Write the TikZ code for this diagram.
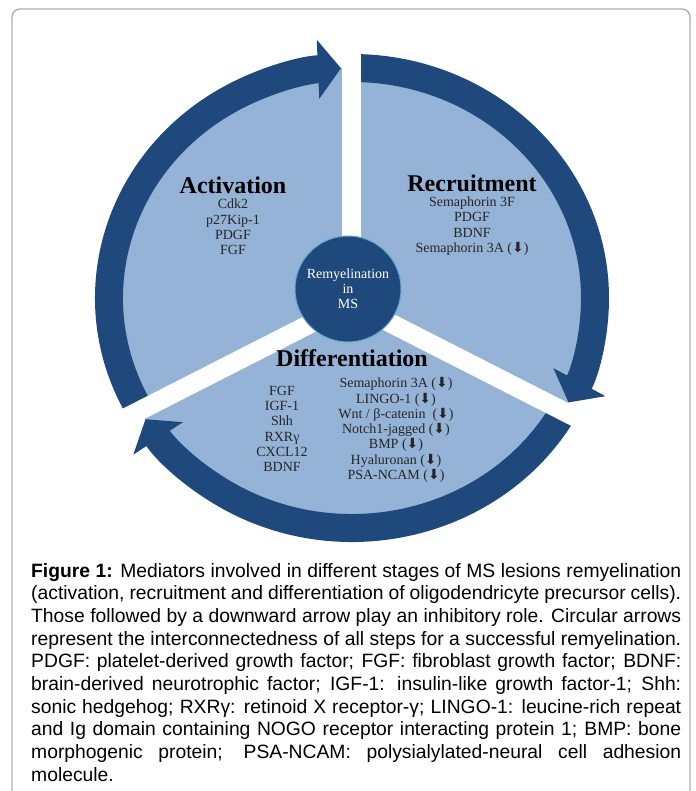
\documentclass[tikz,border=0pt]{standalone}
\usepackage{fontspec}
\setmainfont{Liberation Serif}
\newfontfamily\capfont{Liberation Sans}
\newfontfamily\arrowfont{DejaVu Sans}
\usetikzlibrary{arrows.meta,calc}

\definecolor{ringblue}{RGB}{31,73,125}
\definecolor{discblue}{RGB}{149,179,215}
\definecolor{rimcyan}{RGB}{96,168,200}
\definecolor{framegray}{RGB}{175,175,175}
\definecolor{itemgray}{RGB}{38,38,38}

% inhibitory mark
\newcommand{\inh}{({\arrowfont ⬇})}

\begin{document}
\begin{tikzpicture}[x=1pt,y=1pt,
  band/.style={draw=ringblue, line width=28pt, -{Triangle[length=23pt,width=58pt]}},
  gapline/.style={draw=white, line width=19pt},
  stage/.style={font=\fontsize{24}{26}\selectfont\bfseries, text=black, inner sep=0pt},
  items/.style={font=\fontsize{14}{15.3}\selectfont, text=itemgray, align=center, inner sep=0pt}]
  \useasboundingbox (0,0) rectangle (695,-791);
  \clip (0,0) rectangle (695,-791);
  \coordinate (C) at (352,-298);
  \coordinate (G) at (351,-303);

  \draw[framegray, line width=1.4pt, rounded corners=8pt] (12,-9) rectangle (690,-830);

  \fill[discblue] (C) ellipse [x radius=243, y radius=230];

  % three clockwise arrows, radii 243 and 230
  \draw[band] ($(C)+(209.4:243 and 230)$) arc[start angle=209.4, end angle=92.6, x radius=243, y radius=230];
  \draw[band] ($(C)+(90:243 and 230)$) arc[start angle=90, end angle=-27, x radius=243, y radius=230];
  \draw[band] ($(C)+(-29.4:243 and 230)$) arc[start angle=-29.4, end angle=-148.2, x radius=243, y radius=230];

  % white cuts between the stages
  \draw[gapline] (G) -- ++(90:280);
  \draw[gapline] (G) -- ++(-27:300);
  \draw[gapline] (G) -- ++(207:300);

  \node[circle, fill=ringblue, draw=rimcyan, line width=1pt, minimum size=106pt, inner sep=0pt,
        text=white, align=center, font=\fontsize{14}{15}\selectfont] (core) at (348,-289)
        {Remyelination\\in\\MS};

  \node[stage] (act) at (233,-185) {Activation};
  \node[items] (actlist) at (233,-227) {Cdk2\\p27Kip-1\\PDGF\\FGF};

  \node[stage] (rec) at (472,-183) {Recruitment};
  \node[items] (reclist) at (472,-226) {Semaphorin 3F\\PDGF\\BDNF\\Semaphorin 3A \inh};

  \node[stage] (diff) at (352,-358) {Differentiation};
  \node[items] (difflist) at (282,-429) {FGF\\IGF-1\\Shh\\RXRγ\\CXCL12\\BDNF};
  \node[items] (diffinh) at (396,-430) {Semaphorin 3A \inh\\LINGO-1 \inh\\Wnt / β-catenin~ \inh\\
    Notch1-jagged \inh\\BMP \inh\\Hyaluronan \inh\\PSA-NCAM \inh};

  \node[anchor=north west, inner sep=0pt, text width=650pt, align=justify,
        font=\capfont\fontsize{19.3}{22.65}\selectfont] (caption) at (31,-563)
    {\tolerance=10000 \hyphenpenalty=10000 \exhyphenpenalty=10000
     \textbf{Figure 1:} Mediators involved in different stages of MS lesions remyelination\linebreak
     (activation, recruitment and differentiation of oligodendricyte precursor cells).\linebreak
     Those followed by a downward arrow play an inhibitory role. Circular arrows\linebreak
     represent the interconnectedness of all steps for a successful remyelination.\linebreak
     PDGF: platelet-derived growth factor; FGF: fibroblast growth factor; BDNF:\linebreak
     brain-derived neurotrophic factor; IGF-1: insulin-like growth factor-1; Shh:\linebreak
     sonic hedgehog; RXRγ: retinoid X receptor-γ; LINGO-1: leucine-rich repeat\linebreak
     and Ig domain containing NOGO receptor interacting protein 1; BMP: bone\linebreak
     morphogenic protein; PSA-NCAM: polysialylated-neural cell adhesion\linebreak
     molecule.};
\end{tikzpicture}
\end{document}
